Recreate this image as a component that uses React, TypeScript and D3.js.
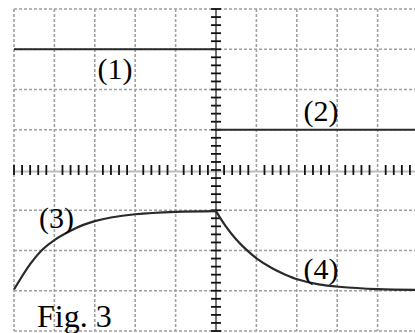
import React from 'react';
import * as d3 from 'd3';

// grid in divisions: 10 across, 8 down, origin at the centre
const xDivs = [-5, -4, -3, -2, -1, 1, 2, 3, 4, 5];
const yDivs = [-4, -3, -2, -1, 1, 2, 3, 4];

// trace (1) and (2): flat levels
const level1 = [[-5, 3], [0, 3]];
const level2 = [[0, 1], [5.1, 1]];

// trace (3): rising toward -1
const rise3 = [
  [-5, -2.97], [-4.6, -2.34], [-4.3, -1.98], [-4, -1.74], [-3.6, -1.51],
  [-3.3, -1.37], [-3, -1.27], [-2.6, -1.18], [-2, -1.1], [-1, -1.04], [0, -1.02],
];

// trace (4): falling toward -3
const fall4 = [
  [0, -1.02], [0.23, -1.38], [0.48, -1.7], [0.73, -1.96], [1.01, -2.2],
  [1.39, -2.44], [1.72, -2.6], [2.03, -2.72], [2.54, -2.84], [3.04, -2.9],
  [4, -2.96], [5.1, -2.98],
];

const labels = [
  { text: '(1)', x: -2.5, y: 2.25 },
  { text: '(2)', x: 2.6, y: 1.22 },
  { text: '(3)', x: -3.95, y: -1.45 },
  { text: '(4)', x: 2.6, y: -2.7 },
];

const W = 415;
const H = 333;

export default function App() {
  const x = d3.scaleLinear().domain([-5, 5]).range([14, 418]);
  const y = d3.scaleLinear().domain([-4, 4]).range([331, 9]);
  const line = d3.line<number[]>().x(d => x(d[0])).y(d => y(d[1])).curve(d3.curveCatmullRom.alpha(0.5));
  const flat = d3.line<number[]>().x(d => x(d[0])).y(d => y(d[1]));

  const minor = d3.range(-25, 26).map(i => i / 5);
  const xMinor = minor.filter(v => Math.abs(v - Math.round(v)) > 1e-6 || v === -5);
  const yMinor = d3.range(-20, 21).map(i => i / 5);

  const font = 'Liberation Serif, Times New Roman, serif';

  return (
    <svg width={W} height={H} style={{ position: 'absolute', left: 0, top: 0, background: '#fff' }}>
      {/* dotted grid */}
      <g stroke="#a0a0a0" strokeWidth={1.6} strokeDasharray="3 2" fill="none">
        {xDivs.map(d => (
          <line key={'gx' + d} x1={x(d)} x2={x(d)} y1={y(4)} y2={y(-4)} />
        ))}
        {yDivs.map(d => (
          <line key={'gy' + d} x1={x(-5)} x2={W} y1={y(d)} y2={y(d)} />
        ))}
      </g>

      {/* horizontal centre axis */}
      <line x1={x(-5)} x2={W} y1={y(0) + 1.5} y2={y(0) + 1.5} stroke="#bdbdbd" strokeWidth={2} />
      <g stroke="#111" strokeWidth={1.8}>
        {xMinor.map(v => (
          <line key={'tx' + v} x1={x(v)} x2={x(v)} y1={y(0) - 5} y2={y(0) + 5} />
        ))}
      </g>

      {/* vertical centre axis */}
      <line x1={x(0)} x2={x(0)} y1={y(4)} y2={y(-4)} stroke="#444" strokeWidth={1.5} />
      <g stroke="#111" strokeWidth={1.8}>
        {yMinor.map(v => (
          <line key={'ty' + v} x1={x(0) - 5} x2={x(0) + 5} y1={y(v)} y2={y(v)} />
        ))}
      </g>

      {/* traces */}
      <g fill="none" stroke="#2a2a2a" strokeWidth={2.2}>
        <path d={flat(level1) || ''} />
        <path d={flat(level2) || ''} />
        <path d={line(rise3) || ''} />
        <path d={line(fall4) || ''} />
      </g>

      {/* labels */}
      {labels.map(l => (
        <text key={l.text} x={x(l.x)} y={y(l.y)} textAnchor="middle" fontFamily={font} fontSize={30} fill="#000">
          {l.text}
        </text>
      ))}
      <text x={37} y={327} fontFamily={font} fontSize={32} fill="#000">Fig. 3</text>
    </svg>
  );
}
